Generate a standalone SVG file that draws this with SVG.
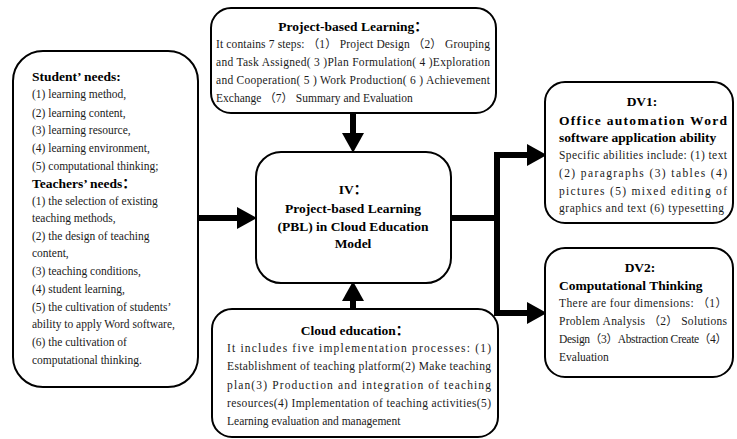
<svg xmlns="http://www.w3.org/2000/svg" width="737" height="439" viewBox="0 0 737 439">
<defs>
<style>
.box{fill:#fff;stroke:#000;stroke-width:2}
.t{font-family:"Liberation Serif","Noto Sans CJK SC",serif;font-size:11.5px;fill:#1a1a1a}
.b{font-family:"Liberation Serif","Noto Sans CJK SC",serif;font-size:13.5px;font-weight:bold;fill:#000}
.c{text-anchor:middle}
.ln{stroke:#000;stroke-width:6;fill:none}
</style>
<marker id="ah" markerUnits="userSpaceOnUse" markerWidth="20" markerHeight="22" refX="0" refY="10" orient="auto" viewBox="0 0 18 20">
<path d="M0,0 L18,10 L0,20 z" fill="#000"/>
</marker>
</defs>
<rect width="737" height="439" fill="#fff"/>

<g id="connectors">
<line class="ln" x1="197" y1="218" x2="237" y2="218" marker-end="url(#ah)"/>
<line class="ln" x1="353" y1="112" x2="353" y2="133" marker-end="url(#ah)"/>
<line class="ln" x1="353" y1="309" x2="353" y2="301" marker-end="url(#ah)"/>
<polyline class="ln" points="451,218 497,218"/>
<polyline class="ln" points="527,155 497,155 497,313 527,313" stroke-linejoin="miter"/>
<line class="ln" x1="500" y1="155" x2="527" y2="155" marker-end="url(#ah)"/>
<line class="ln" x1="500" y1="313" x2="527" y2="313" marker-end="url(#ah)"/>
</g>

<g id="needs">
<rect class="box" x="13" y="51" width="185" height="336" rx="30"/>
<text class="b" x="32" y="81">Student’ needs:</text>
<text class="t" x="32" y="98">(1) learning method,</text>
<text class="t" x="32" y="117">(2) learning content,</text>
<text class="t" x="32" y="134">(3) learning resource,</text>
<text class="t" x="32" y="152">(4) learning environment,</text>
<text class="t" x="32" y="170">(5) computational thinking;</text>
<text class="b" x="32" y="188">Teachers’ needs：</text>
<text class="t" x="32" y="205">(1) the selection of existing</text>
<text class="t" x="32" y="222">teaching methods,</text>
<text class="t" x="32" y="240">(2) the design of teaching</text>
<text class="t" x="32" y="257">content,</text>
<text class="t" x="32" y="275">(3) teaching conditions,</text>
<text class="t" x="32" y="293">(4) student learning,</text>
<text class="t" x="32" y="311">(5) the cultivation of students’</text>
<text class="t" x="32" y="328">ability to apply Word software,</text>
<text class="t" x="32" y="346">(6) the cultivation of</text>
<text class="t" x="32" y="364">computational thinking.</text>
</g>

<g id="pbl">
<rect class="box" x="211" y="8" width="285" height="105" rx="20"/>
<text class="b c" x="353" y="31">Project-based Learning：</text>
<text class="t" x="216" y="48" textLength="274" lengthAdjust="spacing">It contains 7 steps: （1） Project Design （2） Grouping</text>
<text class="t" x="216" y="66" textLength="274" lengthAdjust="spacing">and Task Assigned( 3 )Plan Formulation( 4 )Exploration</text>
<text class="t" x="216" y="84" textLength="274" lengthAdjust="spacing">and Cooperation( 5 ) Work Production( 6 ) Achievement</text>
<text class="t" x="216" y="102">Exchange （7） Summary and Evaluation</text>
</g>

<g id="model">
<rect class="box" x="256" y="152" width="195" height="131" rx="25"/>
<text class="b c" x="353" y="194">IV：</text>
<text class="b c" x="353" y="213">Project-based Learning</text>
<text class="b c" x="353" y="231">(PBL) in Cloud Education</text>
<text class="b c" x="353" y="248">Model</text>
</g>

<g id="cloud">
<rect class="box" x="212" y="309" width="286" height="128" rx="20"/>
<text class="b c" x="355" y="335">Cloud education：</text>
<text class="t" x="227" y="352" textLength="264" lengthAdjust="spacing">It includes five implementation processes: (1)</text>
<text class="t" x="227" y="370" textLength="264" lengthAdjust="spacing">Establishment of teaching platform(2) Make teaching</text>
<text class="t" x="227" y="389" textLength="264" lengthAdjust="spacing">plan(3) Production and integration of teaching</text>
<text class="t" x="227" y="407" textLength="264" lengthAdjust="spacing">resources(4) Implementation of teaching activities(5)</text>
<text class="t" x="227" y="425">Learning evaluation and management</text>
</g>

<g id="dv1">
<rect class="box" x="545" y="82" width="188" height="141" rx="20"/>
<text class="b c" x="642" y="106">DV1:</text>
<text class="b" x="559" y="125" textLength="168" lengthAdjust="spacing">Office automation Word</text>
<text class="b" x="559" y="142">software application ability</text>
<text class="t" x="559" y="159" textLength="168" lengthAdjust="spacing">Specific abilities include: (1) text</text>
<text class="t" x="559" y="177" textLength="168" lengthAdjust="spacing">(2) paragraphs (3) tables (4)</text>
<text class="t" x="559" y="195" textLength="168" lengthAdjust="spacing">pictures (5) mixed editing of</text>
<text class="t" x="559" y="212" textLength="165" lengthAdjust="spacing">graphics and text (6) typesetting</text>
</g>

<g id="dv2">
<rect class="box" x="545" y="248" width="188" height="129" rx="20"/>
<text class="b c" x="640" y="272">DV2:</text>
<text class="b" x="559" y="290">Computational Thinking</text>
<text class="t" x="559" y="307" textLength="168" lengthAdjust="spacing">There are four dimensions: （1）</text>
<text class="t" x="559" y="325" textLength="168" lengthAdjust="spacing">Problem Analysis （2） Solutions</text>
<text class="t" x="559" y="343" textLength="168" lengthAdjust="spacing">Design（3）Abstraction Create（4）</text>
<text class="t" x="559" y="361">Evaluation</text>
</g>
</svg>
